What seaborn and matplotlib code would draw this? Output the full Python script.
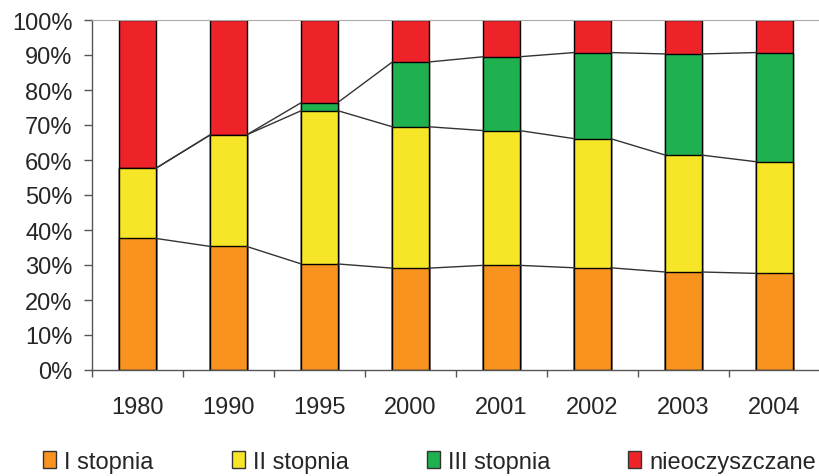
import numpy as np
import pandas as pd
import matplotlib.pyplot as plt
import seaborn as sb
from matplotlib.patches import Patch

sb.set_style('white')
plt.rcParams['font.family'] = ['Liberation Sans', 'DejaVu Sans']

lata = ['1980', '1990', '1995', '2000', '2001', '2002', '2003', '2004']
stopien1 = [37.6, 35.3, 30.3, 29.1, 29.9, 29.2, 28.0, 27.6]
stopien2 = [20.0, 31.9, 43.8, 40.4, 38.5, 36.9, 33.4, 31.9]
stopien3 = [0.0, 0.0, 2.3, 18.5, 21.1, 24.6, 28.9, 31.2]
nieoczyszczane = [42.4, 32.8, 23.6, 12.0, 10.5, 9.3, 9.7, 9.3]

nazwy = ['I stopnia', 'II stopnia', 'III stopnia', 'nieoczyszczane']
kolory = ['#F7931E', '#F7E627', '#1FB14F', '#EE2229']

datos = pd.DataFrame({'I stopnia': stopien1, 'II stopnia': stopien2,
                      'III stopnia': stopien3, 'nieoczyszczane': nieoczyszczane},
                     index=lata)
udzial = datos.div(datos.sum(axis=1), axis=0) * 100
skum = udzial.cumsum(axis=1)

fig = plt.figure(figsize=(8.2, 4.77), dpi=100)
ax = fig.add_axes([92 / 820, 1 - 371 / 477, 728 / 820, 350 / 477])

szer = 0.4
# stacked bars drawn as overlapping cumulative totals, tallest first
for nazwa, kolor in reversed(list(zip(nazwy, kolory))):
    sb.barplot(x=lata, y=skum[nazwa].values, color=kolor, saturation=1,
               width=szer, edgecolor='black', linewidth=1, errorbar=None,
               order=lata, ax=ax)

# series lines between bars
for nazwa in nazwy[:3]:
    poz = skum[nazwa].values
    for i in range(len(lata) - 1):
        ax.plot([i + szer / 2, i + 1 - szer / 2], [poz[i], poz[i + 1]],
                color='#333333', lw=1)

ax.set_xlim(-0.5, len(lata) - 0.5)
ax.set_ylim(0, 100)
ax.set_yticks(np.arange(0, 101, 10))
ax.set_yticklabels([f'{v}%' for v in range(0, 101, 10)], fontsize=17)
ax.set_xticks(range(len(lata)))
ax.set_xticklabels(lata, fontsize=17)
ax.tick_params(axis='x', length=0, pad=19)
ax.tick_params(axis='y', direction='out', length=6, width=1, color='#555555', left=True, pad=8)
ax.set_xticks(np.arange(-0.5, len(lata), 1), minor=True)
ax.tick_params(axis='x', which='minor', direction='out', length=5, width=1,
               color='#555555', bottom=True)
ax.set_xlabel('')
ax.set_ylabel('')
for s in ['left', 'bottom']:
    ax.spines[s].set_color('#555555')
    ax.spines[s].set_linewidth(1)
ax.spines['top'].set_color('#aaaaaa')
ax.spines['right'].set_visible(False)

uchwyty = [Patch(facecolor=k, edgecolor='#333333', label=n) for n, k in zip(nazwy, kolory)]
fig.legend(handles=uchwyty, loc='center', bbox_to_anchor=(0.524, 0.03), ncol=4,
           frameon=False, fontsize=17, handlelength=0.55, handleheight=0.75,
           handletextpad=0.35, columnspacing=3.3, borderpad=0, borderaxespad=0)

fig.savefig('out.png', dpi=100)
